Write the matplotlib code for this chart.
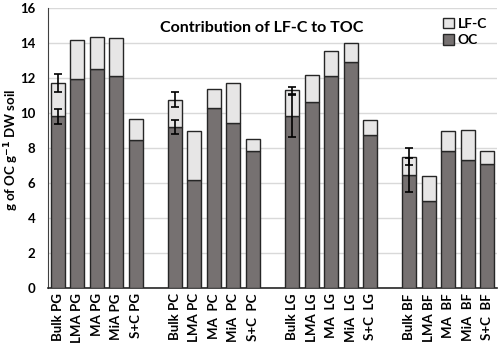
import numpy as np
import matplotlib
matplotlib.use("Agg")
import matplotlib.pyplot as plt

plt.rcParams["font.family"] = ["Lato", "DejaVu Sans"]
plt.rcParams["font.weight"] = "bold"

# data
labels = [
    "Bulk PG", "LMA PG", "MA PG", "MiA PG", "S+C PG", "",
    "Bulk PC", "LMA PC", "MA  PC", "MiA  PC", "S+C  PC", "",
    "Bulk LG", "LMA LG", "MA  LG", "MiA  LG", "S+C  LG", "",
    "Bulk BF", "LMA BF", "MA  BF", "MiA  BF", "S+C  BF",
]
oc = [9.8, 11.95, 12.5, 12.1, 8.45, np.nan,
      9.2, 6.15, 10.3, 9.4, 7.8, np.nan,
      9.8, 10.6, 12.1, 12.9, 8.75, np.nan,
      6.45, 4.95, 7.8, 7.3, 7.1]
total = [11.7, 14.15, 14.35, 14.3, 9.65, np.nan,
         10.75, 8.95, 11.35, 11.7, 8.5, np.nan,
         11.3, 12.15, 13.55, 14.0, 9.6, np.nan,
         7.5, 6.4, 8.95, 9.05, 7.85]
oc_err = [0.42, 0, 0, 0, 0, 0,
          0.42, 0, 0, 0, 0, 0,
          1.2, 0, 0, 0, 0, 0,
          0.95, 0, 0, 0, 0]
total_err = [0.5, 0, 0, 0, 0, 0,
             0.43, 0, 0, 0, 0, 0,
             0.2, 0, 0, 0, 0, 0,
             0.5, 0, 0, 0, 0]

oc = np.array(oc)
total = np.array(total)
lfc = total - oc
x = np.arange(len(labels))

fig = plt.figure(figsize=(5.0, 3.46), dpi=100)
ax = fig.add_axes([0.096, 0.168, 0.898, 0.809])

w = 0.72
ax.bar(x, oc, w, color="#767171", edgecolor="#262626", linewidth=1.0,
       label="OC", zorder=3)
ax.bar(x, lfc, w, bottom=oc, color="#e7e6e6", edgecolor="#262626",
       linewidth=1.0, label="LF-C", zorder=3)

# error bars only where given
sel = np.array(oc_err) > 0
ax.errorbar(x[sel], oc[sel], yerr=np.array(oc_err)[sel], fmt="none",
            ecolor="black", elinewidth=1.2, capsize=3, capthick=1.2, zorder=4)
sel = np.array(total_err) > 0
ax.errorbar(x[sel], total[sel], yerr=np.array(total_err)[sel], fmt="none",
            ecolor="black", elinewidth=1.2, capsize=3, capthick=1.2, zorder=4)

ax.set_xlim(-0.5, len(labels) - 0.5)
ax.set_ylim(0, 16)
ax.set_yticks(np.arange(0, 17, 2))
ax.set_xticks(x)
ax.set_xticklabels(labels, rotation=90, fontsize=9.5, fontweight="bold")
ax.tick_params(axis="both", length=0, labelsize=9.5)
ax.tick_params(axis="x", pad=4)
ax.tick_params(axis="y", pad=9)
ax.yaxis.grid(True, color="#d9d9d9", linewidth=1.0, zorder=0)
ax.set_axisbelow(True)

for s in ["top", "right"]:
    ax.spines[s].set_visible(False)
ax.spines["left"].set_color("#404040")
ax.spines["bottom"].set_color("#262626")
ax.spines["bottom"].set_linewidth(1.2)

fig.text(0.024, 0.566, "g of OC g$^{\\mathbf{-1}}$ DW soil", rotation=90,
         ha="center", va="center", fontsize=9.5, fontweight="bold")
ax.text(0.477, 0.93, "Contribution of LF-C to TOC", transform=ax.transAxes,
        ha="center", va="center", fontsize=11.5, fontweight="bold")

h, l = ax.get_legend_handles_labels()
ax.legend(h[::-1], l[::-1], loc="upper right", bbox_to_anchor=(1.0, 1.0),
          frameon=False, fontsize=10, handlelength=0.8, handleheight=0.8,
          handletextpad=0.3, labelspacing=0.3, borderaxespad=0.3)

fig.savefig("out.png", dpi=100)
